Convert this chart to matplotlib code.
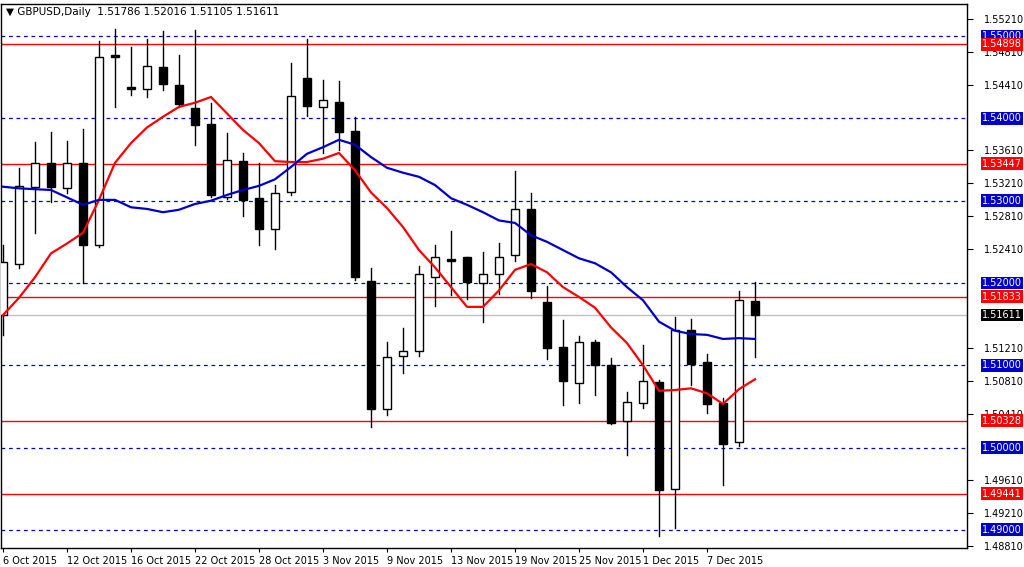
import matplotlib
matplotlib.use("Agg")
import matplotlib.pyplot as plt
from matplotlib.transforms import blended_transform_factory
import numpy as np

opens = [1.5161,1.5223,1.5317,1.5346,1.5315,1.5346,1.5246,1.5477,1.5438,1.5436,1.5462,1.5440,1.5413,1.5393,1.5304,1.5348,
         1.5303,1.5266,1.5310,1.5449,1.5414,1.5420,1.5385,1.5202,1.5047,1.5111,1.5117,1.5207,1.5229,1.5231,1.5200,1.5211,
         1.5234,1.5290,1.5177,1.5122,1.5078,1.5128,1.5100,1.5032,1.5054,1.5080,1.4950,1.5143,1.5104,1.5054,1.5007,1.51786]
highs = [1.5246,1.5340,1.5371,1.5383,1.5372,1.5387,1.5494,1.5509,1.5487,1.5496,1.5506,1.5477,1.5507,1.5419,1.5382,1.5358,
         1.5346,1.5319,1.5467,1.5496,1.5447,1.5445,1.5402,1.5218,1.5128,1.5145,1.5221,1.5246,1.5263,1.5232,1.5238,1.5248,
         1.5336,1.5309,1.5196,1.5155,1.5135,1.5131,1.5109,1.5067,1.5125,1.5082,1.5159,1.5156,1.5114,1.5060,1.5190,1.52016]
lows = [1.5137,1.5218,1.5261,1.5298,1.5309,1.5200,1.5244,1.5414,1.5428,1.5426,1.5434,1.5414,1.5368,1.5304,1.5302,1.5281,
        1.5246,1.5241,1.5307,1.5403,1.5358,1.5361,1.5204,1.5025,1.5040,1.5091,1.5111,1.5172,1.5185,1.5180,1.5153,1.5187,
        1.5227,1.5182,1.5108,1.5052,1.5054,1.5064,1.5029,1.4991,1.5048,1.4892,1.4902,1.5076,1.5042,1.4954,1.5002,1.51105]
closes = [1.5225,1.5318,1.5346,1.5317,1.5346,1.5246,1.5474,1.5474,1.5436,1.5464,1.5442,1.5417,1.5392,1.5307,1.5349,1.5301,
          1.5266,1.5309,1.5427,1.5415,1.5422,1.5383,1.5207,1.5047,1.5110,1.5117,1.5211,1.5231,1.5227,1.5201,1.5211,1.5231,
          1.5290,1.5190,1.5121,1.5081,1.5128,1.5100,1.5030,1.5055,1.5081,1.4948,1.5143,1.5101,1.5053,1.5004,1.5179,1.51611]
ma_fast = [1.5161,1.5182,1.5207,1.5236,1.5248,1.5261,1.5301,1.5346,1.5370,1.5389,1.5402,1.5414,1.5419,1.5426,1.5406,1.5386,
           1.5370,1.5348,1.5347,1.5347,1.5351,1.5358,1.5337,1.5310,1.5291,1.5268,1.5240,1.5219,1.5195,1.5171,1.5171,1.5191,
           1.5216,1.5223,1.5213,1.5195,1.5183,1.5170,1.5146,1.5127,1.5100,1.5069,1.5070,1.5072,1.5066,1.5053,1.5071,1.5083]
ma_slow = [1.5317,1.5315,1.5314,1.5313,1.5304,1.5295,1.5301,1.5301,1.5292,1.5290,1.5286,1.5289,1.5296,1.5300,1.5307,1.5313,
           1.5318,1.5326,1.5341,1.5357,1.5365,1.5374,1.5368,1.5353,1.5340,1.5334,1.5329,1.5319,1.5303,1.5295,1.5286,1.5276,
           1.5273,1.5258,1.5250,1.5240,1.5230,1.5224,1.5213,1.5195,1.5179,1.5153,1.5142,1.5138,1.5137,1.5132,1.5133,1.5132]
date_idx = [0,4,8,12,16,20,24,28,32,36,40,44]
date_labels = ["6 Oct 2015","12 Oct 2015","16 Oct 2015","22 Oct 2015","28 Oct 2015","3 Nov 2015",
               "9 Nov 2015","13 Nov 2015","19 Nov 2015","25 Nov 2015","1 Dec 2015","7 Dec 2015"]
blue_levels = [1.55,1.54,1.53,1.52,1.51,1.50,1.49]
red_levels = [1.54898,1.53447,1.51833,1.50328,1.49441]
last_price = 1.51611
axis_ticks = [1.55210,1.54810,1.54410,1.53610,1.53210,1.52810,1.52410,1.51210,1.50810,1.50410,1.49610,1.49210,1.48810]

fig = plt.figure(figsize=(10.24,5.67), dpi=100)
ax = fig.add_axes([1/1024, 19/567, 966/1024, 544/567])
ax.set_xlim(-0.125, 60.25)
ax.set_ylim(1.4878, 1.5539)

for lv in blue_levels:
    ax.axhline(lv, color="#0000cc", lw=0.9, ls=(0,(3,3)), zorder=1)
for lv in red_levels:
    ax.axhline(lv, color="#ff0000", lw=1.0, zorder=1)
ax.axhline(last_price, color="#c0c0c0", lw=1.0, zorder=1)

w = 0.56
for i,(o,h,l,c) in enumerate(zip(opens,highs,lows,closes)):
    ax.plot([i,i],[l,h], color="black", lw=1.0, zorder=2)
    lo, hi = min(o,c), max(o,c)
    fc = "white" if c > o else "black"
    ax.add_patch(plt.Rectangle((i-w/2, lo), w, max(hi-lo,0.00012), facecolor=fc, edgecolor="black", lw=1.0, zorder=3))

x = np.arange(len(ma_fast))
ax.plot(x, ma_fast, color="#ff0000", lw=1.6, zorder=4)
ax.plot(x, ma_slow, color="#0000cc", lw=1.6, zorder=4)

ax.set_xticks(date_idx)
ax.set_xticklabels(date_labels, fontsize=7, ha="left")
ax.tick_params(axis="x", length=3, pad=3)
ax.yaxis.tick_right()
ax.set_yticks(axis_ticks)
ax.set_yticklabels([f"{v:.5f}" for v in axis_ticks], fontsize=7)
ax.tick_params(axis="y", length=4, pad=8)
for s in ax.spines.values():
    s.set_linewidth(1.0)

tr = blended_transform_factory(ax.transAxes, ax.transData)
def box(v, fc):
    ax.text(1.0155, v, f"{v:.5f}", transform=tr, fontsize=7, color="white", va="center", ha="left",
            bbox=dict(boxstyle="square,pad=0.15", fc=fc, ec="none"), clip_on=False, zorder=10)
for lv in blue_levels:
    box(lv, "#0000cc")
for lv in red_levels:
    box(lv, "#ff0000")
box(last_price, "black")

fig.text(6/1024, 1-12/567, "\u25BC GBPUSD,Daily  1.51786 1.52016 1.51105 1.51611", fontsize=7.5, va="center")
fig.savefig("out.png", dpi=100, facecolor="white")
